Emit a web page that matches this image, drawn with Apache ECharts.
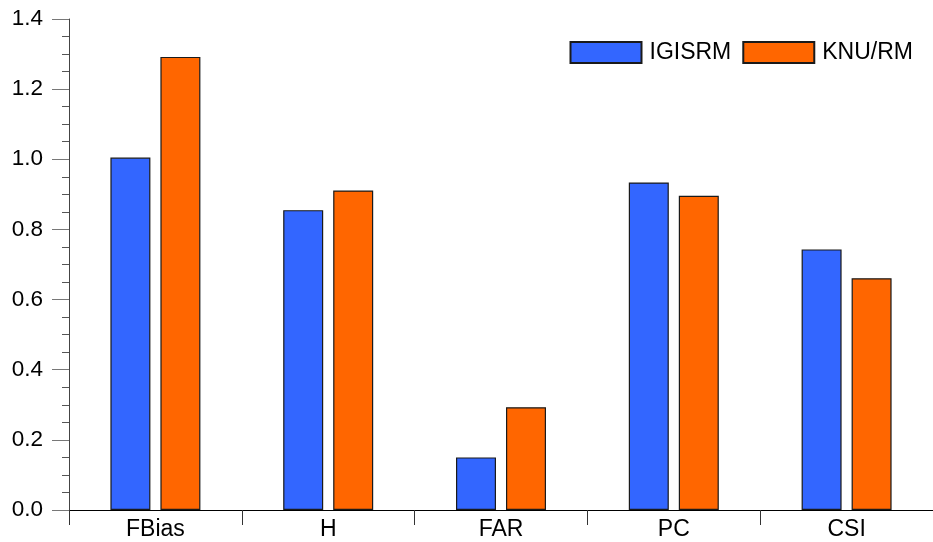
<!DOCTYPE html>
<html>
<head>
<meta charset="utf-8">
<script src="https://cdn.jsdelivr.net/npm/echarts@6/dist/echarts.min.js"></script>
<style>
  html, body { margin: 0; padding: 0; background: #fff; }
  #chart { width: 933px; height: 542px; }
</style>
</head>
<body>
<div id="chart"></div>
<script>
// Verification scores for the two rainfall estimates
const categories = ['FBias', 'H', 'FAR', 'PC', 'CSI'];
const igisrm = [1.005, 0.855, 0.150, 0.934, 0.743];
const knurm = [1.292, 0.911, 0.293, 0.896, 0.661];
const seriesNames = ['IGISRM', 'KNU/RM'];

const FONT = '"Liberation Sans", Arial, sans-serif';
const chart = echarts.init(document.getElementById('chart'), null, { renderer: 'canvas' });

chart.setOption({
  animation: false,
  backgroundColor: '#ffffff',
  grid: { left: 69, top: 19, width: 869, bottom: 32, containLabel: false },
  legend: {
    right: 15, top: 36,
    itemWidth: 71, itemHeight: 21, itemGap: 11,
    icon: 'rect',
    textStyle: { fontFamily: FONT, fontSize: 23, color: '#000', padding: [0, 0, 0, 3] },
    data: seriesNames
  },
  xAxis: {
    type: 'category',
    data: categories,
    axisLine: { lineStyle: { color: '#000', width: 1 } },
    axisTick: { show: true, length: 15, alignWithLabel: false, lineStyle: { color: '#333' } },
    axisLabel: { fontFamily: FONT, fontSize: 23, color: '#000', margin: 8 }
  },
  yAxis: {
    type: 'value',
    min: 0, max: 1.4, interval: 0.2,
    axisLine: { show: true, lineStyle: { color: '#444' } },
    axisTick: { show: true, length: 17, lineStyle: { color: '#777' } },
    minorTick: { show: true, splitNumber: 4, length: 7, lineStyle: { color: '#555' } },
    splitLine: { show: false },
    axisLabel: {
      fontFamily: FONT, fontSize: 22.5, color: '#000', margin: 26,
      formatter: v => v.toFixed(1)
    }
  },
  series: [
    {
      name: seriesNames[0], type: 'bar', data: igisrm,
      barWidth: 40, barGap: '25%',
      itemStyle: { color: '#3366ff', borderColor: '#1a1a1a', borderWidth: 1.2 }
    },
    {
      name: seriesNames[1], type: 'bar', data: knurm,
      barWidth: 40, barGap: '25%',
      itemStyle: { color: '#ff6600', borderColor: '#1a1a1a', borderWidth: 1.2 }
    }
  ]
});
</script>
</body>
</html>
